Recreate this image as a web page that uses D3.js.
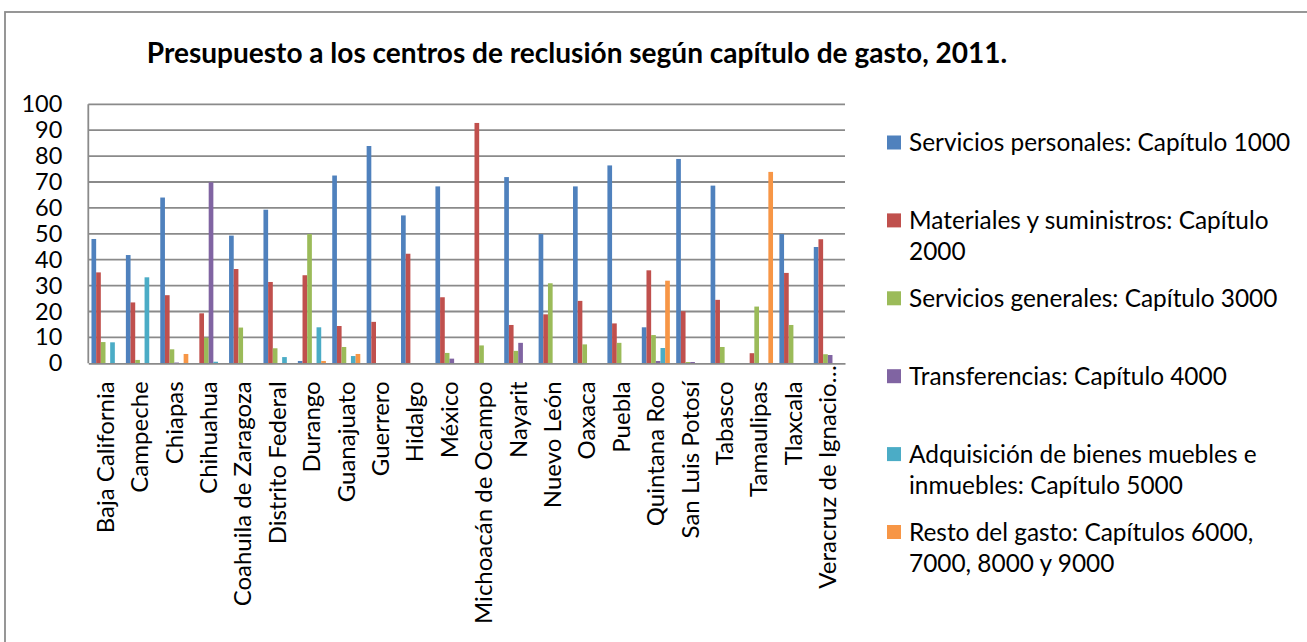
<!DOCTYPE html>
<html>
<head>
<meta charset="utf-8">
<script src="https://cdn.jsdelivr.net/npm/d3@7"></script>
<style>
  body { margin: 0; background: #fff; }
  text { font-family: Lato, "Open Sans", sans-serif; fill: #000; }
</style>
</head>
<body>
<svg id="viz" width="1307" height="642"></svg>
<script>
// Presupuesto a los centros de reclusión, 2011

var states = ["Baja California", "Campeche", "Chiapas", "Chihuahua", "Coahuila de Zaragoza",
    "Distrito Federal", "Durango", "Guanajuato", "Guerrero", "Hidalgo", "México",
    "Michoacán de Ocampo", "Nayarit", "Nuevo León", "Oaxaca", "Puebla", "Quintana Roo",
    "San Luis Potosí", "Tabasco", "Tamaulipas", "Tlaxcala", "Veracruz de Ignacio…"];

var seriesNames = ["Servicios personales: Capítulo 1000",
    "Materiales y suministros: Capítulo 2000",
    "Servicios generales: Capítulo 3000",
    "Transferencias: Capítulo 4000",
    "Adquisición de bienes muebles e inmuebles: Capítulo 5000",
    "Resto del gasto: Capítulos 6000, 7000, 8000 y 9000"];

// legend lines as Excel wrapped them
var legendLines = [
    ["Servicios personales: Capítulo 1000"],
    ["Materiales y suministros: Capítulo", "2000"],
    ["Servicios generales: Capítulo 3000"],
    ["Transferencias: Capítulo 4000"],
    ["Adquisición de bienes muebles e", "inmuebles: Capítulo 5000"],
    ["Resto del gasto: Capítulos 6000,", "7000, 8000 y 9000"]];

var cap1000 = [48, 41.8, 64, 0, 49.3, 59.3, 0.9, 72.5, 83.9, 57.1, 68.3, 0, 71.9, 49.9, 68.3, 76.4, 13.9, 78.9, 68.6, 0, 49.9, 44.9];
var cap2000 = [35.1, 23.5, 26.3, 19.3, 36.4, 31.4, 34, 14.4, 16, 42.3, 25.5, 92.8, 14.8, 18.9, 24.1, 15.4, 35.9, 20.1, 24.5, 3.9, 34.9, 47.9];
var cap3000 = [8.2, 1.3, 5.4, 9.9, 13.8, 5.8, 49.9, 6.3, 0, 0, 4, 6.9, 4.8, 30.9, 7.3, 7.9, 10.9, 0.5, 6.3, 21.9, 14.8, 3.5];
var cap4000 = [0, 0, 0.3, 69.9, 0, 0, 0, 0, 0, 0, 1.8, 0, 7.9, 0, 0, 0, 0.9, 0.5, 0, 0, 0, 3.2];
var cap5000 = [8.1, 33.2, 0, 0.6, 0, 2.4, 13.9, 2.8, 0, 0, 0, 0, 0, 0, 0, 0, 5.9, 0, 0, 0, 0, 0];
var capResto = [0, 0, 3.6, 0, 0, 0, 0.9, 3.6, 0, 0, 0, 0, 0, 0, 0, 0, 31.9, 0, 0, 73.9, 0, 0];

var yTicks = [0, 10, 20, 30, 40, 50, 60, 70, 80, 90, 100];
var colors = ["#4F81BD", "#C0504D", "#9BBB59", "#8064A2", "#4BACC6", "#F79646"];

var allSeries = [cap1000, cap2000, cap3000, cap4000, cap5000, capResto];

var svg = d3.select("#viz");
var width = +svg.attr("width");
var height = +svg.attr("height");

// outer chart frame (right and bottom edges fall outside the picture)
svg.append("rect")
    .attr("x", 5).attr("y", 12)
    .attr("width", width + 20).attr("height", height + 20)
    .attr("fill", "none")
    .attr("stroke", "#8c8c8c")
    .attr("stroke-width", 1.8);

var title = svg.append("text")
    .attr("x", 577).attr("y", 63)
    .attr("text-anchor", "middle")
    .attr("font-family", "'Open Sans', Lato, sans-serif")
    .attr("font-size", 22)
    .attr("font-weight", 700)
    .text("Presupuesto a los centros de reclusión según capítulo de gasto, 2011.");
// scale title so it spans the same width as the original (146 -> 1008)
var tw = title.node().getComputedTextLength();
if (tw > 0) title.attr("font-size", 22 * 861 / tw);

var plot = {left: 88.3, right: 845, top: 104.3, bottom: 363.3};

var x0 = d3.scaleBand()
    .domain(states)
    .range([plot.left, plot.right])
    .padding(0);

var x1 = d3.scaleBand()
    .domain(d3.range(allSeries.length))
    .range([0, x0.bandwidth()])
    .paddingInner(0)
    .paddingOuter(0.68);

var y = d3.scaleLinear()
    .domain([0, 100])
    .range([plot.bottom, plot.top]);

// gridlines
svg.append("g")
    .attr("class", "grid")
    .selectAll("line")
    .data(yTicks.slice(1))
    .enter()
    .append("line")
    .attr("x1", plot.left).attr("x2", plot.right)
    .attr("y1", d => y(d)).attr("y2", d => y(d))
    .attr("stroke", "#8a8a8a")
    .attr("stroke-width", 1.8);

// y axis labels
var yAxis = d3.axisLeft(y)
    .tickValues(yTicks)
    .tickSize(0)
    .tickPadding(0);
var yg = svg.append("g")
    .attr("transform", `translate(${plot.left - 26},0)`)
    .call(yAxis);
yg.select(".domain").remove();
yg.selectAll("text")
    .attr("font-size", 23.5)
    .attr("font-family", "Lato, sans-serif")
    .attr("fill", "#000");

// bars
var groups = svg.append("g")
    .attr("class", "bars")
    .selectAll("g")
    .data(allSeries)
    .enter()
    .append("g")
    .attr("fill", (d, i) => colors[i]);

groups.each(function (vals, si) {
    d3.select(this).selectAll("rect")
        .data(vals)
        .enter()
        .append("rect")
        .attr("x", (d, i) => x0(states[i]) + x1(si))
        .attr("width", x1.bandwidth())
        .attr("y", d => y(d))
        .attr("height", d => plot.bottom - y(d));
});

// axes lines
svg.append("line")
    .attr("x1", plot.left).attr("x2", plot.left)
    .attr("y1", plot.top).attr("y2", plot.bottom)
    .attr("stroke", "#8a8a8a").attr("stroke-width", 1.8);

var xAxis = d3.axisBottom(x0).tickSize(0).tickPadding(0);
var xg = svg.append("g")
    .attr("transform", `translate(0,${plot.bottom})`)
    .call(xAxis);
xg.select(".domain")
    .attr("stroke", "#8a8a8a")
    .attr("stroke-width", 1.8);
xg.selectAll("text")
    .attr("font-size", 24)
    .attr("font-family", "Lato, sans-serif")
    .attr("fill", "#000")
    .attr("text-anchor", "end")
    // the truncated last label sits a bit higher in the original
    .attr("transform", (d, i) => `translate(0,${i === states.length - 1 ? 2 : 18}) rotate(-90)`)
    .attr("x", 0)
    .attr("y", 0)
    .attr("dy", "0.35em");

// legend
var legend = svg.append("g")
    .attr("id", "legend")
    .attr("transform", "translate(887,0)");

var item = legend.selectAll("g")
    .data(legendLines)
    .enter()
    .append("g")
    .attr("transform", (d, i) => `translate(0,${142.5 + i * 77.9})`);

item.append("rect")
    .attr("x", 0).attr("y", -7)
    .attr("width", 14).attr("height", 14)
    .attr("fill", (d, i) => colors[i]);

item.each(function (lines) {
    d3.select(this).selectAll("text")
        .data(lines)
        .enter()
        .append("text")
        .attr("x", 22)
        .attr("y", (d, j) => j * 31)
        .attr("dy", "0.36em")
        .attr("font-size", 24.4)
        .text(d => d);
});
</script>
</body>
</html>
